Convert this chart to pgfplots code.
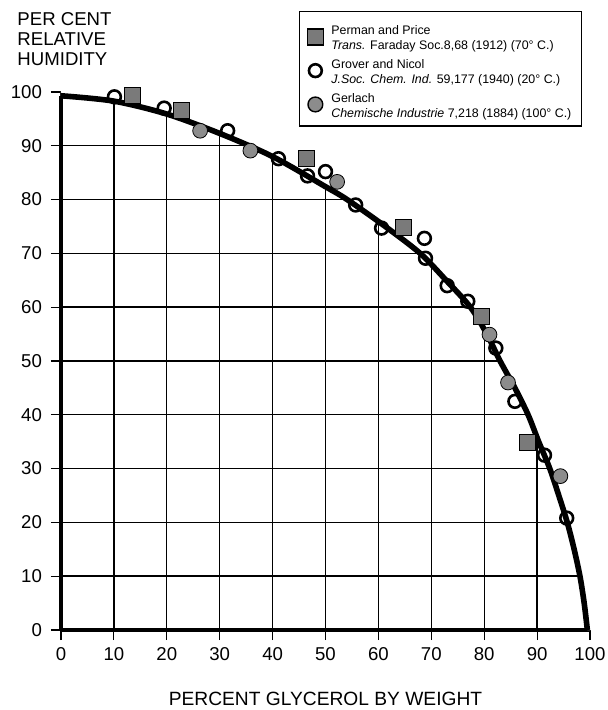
\documentclass[border=0pt]{standalone}
\usepackage{fontspec}
\setmainfont{Liberation Sans}
\usepackage{pgfplots}
\pgfplotsset{compat=1.18}

\begin{document}
\begin{tikzpicture}
\begin{axis}[
  x=2.645pt, y=2.69pt,
  xmin=0, xmax=100, ymin=0, ymax=100,
  axis lines*=left,
  axis line style={line width=2pt, black},
  y axis line style={shorten >=1.9pt},
  xtick={0,10,...,100}, ytick={0,10,...,100},
  tick align=outside,
  major tick length=5pt,
  major tick style={line width=0.6pt, black},
  grid=major,
  grid style={line width=0.7pt, black},
  clip=false,
  /pgf/number format/assume math mode=true,
  ticklabel style={font=\fontsize{9.3}{11}\selectfont},
  yticklabel style={xshift=-1pt},
  legend cell align=left,
  legend style={at={(0.985,1.151)}, anchor=north east, draw=black,
    line width=0.7pt, fill=white, inner xsep=4pt, inner ysep=5.5pt,
    row sep=4.5pt, column sep=3pt,
    nodes={inner sep=1pt, font=\fontsize{6.2}{7.4}\selectfont}},
  legend image code/.code={\draw[#1] plot coordinates {(0pt,-1pt)};},
]

% white area above the curve hides the grid there
\addplot[forget plot, smooth, draw=none, fill=white] coordinates {
  (0,99.3) (10,98.3) (20,95.9) (30,92.3) (40,88.0) (50,82.4) (54.1,80)
  (61.3,75) (67.9,70) (72.8,65) (77.4,60) (80.5,55) (83.0,50) (85.8,45)
  (88.3,40) (90.3,35) (92.4,30) (94.1,25) (95.7,20) (97.0,15) (98.1,10)
  (98.9,5) (99.5,0)
} -- (axis cs:101,0) -- (axis cs:101,101) -- (axis cs:0,101) -- cycle;

% Perman and Price
\addplot[forget plot, only marks, mark=square*, mark size=4pt,
  mark options={draw=none, fill=black!52}] coordinates {
  (13.5,99.3) (22.7,96.5) (46.4,87.7) (64.8,74.9) (79.4,58.2) (88.2,34.9)
};
% Gerlach
\addplot[forget plot, only marks, mark=*, mark size=3.7pt,
  mark options={draw=none, fill=black!45}] coordinates {
  (26.3,92.8) (35.8,89.1) (52.2,83.3) (81.0,54.9) (84.5,46.0) (94.4,28.6)
};

% fitted curve
\addplot[forget plot, smooth, line width=2.8pt, black] coordinates {
  (0,99.3) (10,98.3) (20,95.9) (30,92.3) (40,88.0) (50,82.4) (54.1,80)
  (61.3,75) (67.9,70) (72.8,65) (77.4,60) (80.5,55) (83.0,50) (85.8,45)
  (88.3,40) (90.3,35) (92.4,30) (94.1,25) (95.7,20) (97.0,15) (98.1,10)
  (98.9,5) (99.5,0)
};

% Grover and Nicol
\addplot[forget plot, only marks, mark=o, mark size=3.2pt, black,
  mark options={line width=1.3pt}] coordinates {
  (10.1,99.1) (19.5,97.0) (31.5,92.8) (41.1,87.6) (46.6,84.4) (50.0,85.2)
  (55.7,79.0) (60.6,74.7) (68.7,72.8) (68.9,69.1) (73.0,64.0) (76.9,61.1)
  (82.2,52.4) (85.8,42.5) (91.4,32.5) (95.6,20.8)
};

\addlegendimage{only marks, mark=square*, mark size=4pt, mark options={draw=none, fill=black!52}}
\addlegendentry{\begin{tabular}{@{}l@{}}Perman and Price\\ \textit{Trans.} Faraday Soc.8,68 (1912) (70° C.)\end{tabular}}
\addlegendimage{only marks, mark=o, mark size=3.2pt, black, mark options={line width=1.3pt}}
\addlegendentry{\begin{tabular}{@{}l@{}}Grover and Nicol\\ \textit{J.Soc. Chem. Ind.} 59,177 (1940) (20° C.)\end{tabular}}
\addlegendimage{only marks, mark=*, mark size=3.7pt, mark options={draw=none, fill=black!45}}
\addlegendentry{\begin{tabular}{@{}l@{}}Gerlach\\ \textit{Chemische Industrie} 7,218 (1884) (100° C.)\end{tabular}}

\node[anchor=north west, align=left, inner sep=0pt,
  font=\fontsize{9.3}{10}\selectfont] at (axis cs:-8.3,114.9)
  {PER CENT\\RELATIVE\\HUMIDITY};
\node[anchor=base, inner sep=0pt, font=\fontsize{9.6}{11}\selectfont]
  at (axis cs:50,-14.1) {PERCENT GLYCEROL BY WEIGHT};

\coordinate (bbSW) at (axis cs:-11.53,-14.87);
\coordinate (bbNE) at (axis cs:103.4,117.1);
\end{axis}
\pgfresetboundingbox
\path (bbSW) rectangle (bbNE);
\end{tikzpicture}
\end{document}
